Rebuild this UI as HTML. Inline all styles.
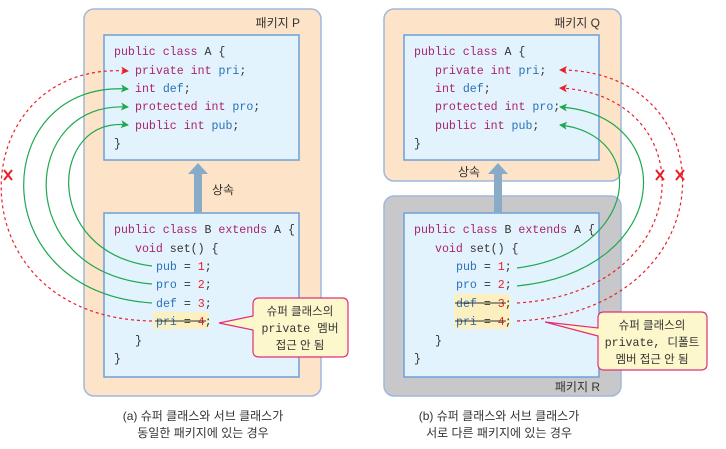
<!DOCTYPE html>
<html><head><meta charset="utf-8"><style>
html,body{margin:0;padding:0;background:#fff;}
svg{display:block;}
.c{font-family:"Liberation Mono",monospace;font-size:11.6px;}
.k{font-family:"Liberation Sans","Noto Sans CJK KR",sans-serif;}
</style></head><body>
<svg width="726" height="449" viewBox="0 0 726 449" xmlns="http://www.w3.org/2000/svg">
<defs>
<marker id="g" markerWidth="8" markerHeight="8" refX="7" refY="4" orient="auto" markerUnits="userSpaceOnUse"><path d="M0,0 L8,4 L0,8 L2,4 z" fill="#1fa84f"/></marker>
<marker id="r" markerWidth="8" markerHeight="8" refX="7" refY="4" orient="auto" markerUnits="userSpaceOnUse"><path d="M0,0 L8,4 L0,8 L2,4 z" fill="#e8202a"/></marker>
</defs>
<!-- left package -->
<rect x="84" y="9" width="237" height="387" rx="10" fill="#fde3c8" stroke="#9fb8dc" stroke-width="1.5"/>
<text x="300" y="27" class="k" font-size="12" fill="#333" text-anchor="end">패키지 P</text>
<rect x="104" y="35" width="195" height="125" fill="#e3f3fd" stroke="#6f9fd8" stroke-width="1.5"/>
<rect x="104" y="213" width="195" height="164" fill="#e3f3fd" stroke="#6f9fd8" stroke-width="1.5"/>
<path d="M194,213 L194,174 L188,174 L198,163 L208,174 L202,174 L202,213 z" fill="#88acc8"/>
<text x="212" y="194" class="k" font-size="12" fill="#333">상속</text>
<rect x="153" y="312" width="56" height="17" fill="#fdf0c0"/>
<!-- right packages -->
<rect x="384" y="9" width="237" height="172" rx="10" fill="#fde3c8" stroke="#9fb8dc" stroke-width="1.5"/>
<text x="600" y="27" class="k" font-size="12" fill="#333" text-anchor="end">패키지 Q</text>
<rect x="404" y="35" width="195" height="125" fill="#e3f3fd" stroke="#6f9fd8" stroke-width="1.5"/>
<rect x="384" y="196" width="237" height="200" rx="10" fill="#c8c8ca" stroke="#9fb8dc" stroke-width="1.5"/>
<text x="600" y="391" class="k" font-size="12" fill="#333" text-anchor="end">패키지 R</text>
<rect x="404" y="213" width="195" height="164" fill="#e3f3fd" stroke="#6f9fd8" stroke-width="1.5"/>
<path d="M494,213 L494,174 L488,174 L498,163 L508,174 L502,174 L502,213 z" fill="#88acc8"/>
<text x="458" y="176" class="k" font-size="12" fill="#333">상속</text>
<rect x="454" y="294" width="56" height="35" fill="#fdf0c0"/>

<!-- code left A -->
<g class="c">
<text x="114" y="55"><tspan fill="#a8246e">public class</tspan><tspan fill="#333"> A {</tspan></text>
<text x="135" y="74"><tspan fill="#a8246e">private int</tspan><tspan fill="#2a70b8"> pri</tspan><tspan fill="#333">;</tspan></text>
<text x="135" y="92"><tspan fill="#a8246e">int</tspan><tspan fill="#2a70b8"> def</tspan><tspan fill="#333">;</tspan></text>
<text x="135" y="110"><tspan fill="#a8246e">protected int</tspan><tspan fill="#2a70b8"> pro</tspan><tspan fill="#333">;</tspan></text>
<text x="135" y="129"><tspan fill="#a8246e">public int</tspan><tspan fill="#2a70b8"> pub</tspan><tspan fill="#333">;</tspan></text>
<text x="114" y="147" fill="#333">}</text>
<!-- left B -->
<text x="114" y="233"><tspan fill="#a8246e">public class</tspan><tspan fill="#333"> B </tspan><tspan fill="#a8246e">extends</tspan><tspan fill="#333"> A {</tspan></text>
<text x="135" y="252"><tspan fill="#a8246e">void</tspan><tspan fill="#333"> set() {</tspan></text>
<text x="156" y="270"><tspan fill="#2a70b8">pub</tspan><tspan fill="#333"> = </tspan><tspan fill="#e8202a">1</tspan><tspan fill="#333">;</tspan></text>
<text x="156" y="288"><tspan fill="#2a70b8">pro</tspan><tspan fill="#333"> = </tspan><tspan fill="#e8202a">2</tspan><tspan fill="#333">;</tspan></text>
<text x="156" y="307"><tspan fill="#2a70b8">def</tspan><tspan fill="#333"> = </tspan><tspan fill="#e8202a">3</tspan><tspan fill="#333">;</tspan></text>
<text x="156" y="325"><tspan fill="#2a70b8">pri</tspan><tspan fill="#333"> = </tspan><tspan fill="#e8202a">4</tspan><tspan fill="#333">;</tspan></text>
<text x="135" y="344" fill="#333">}</text>
<text x="114" y="362" fill="#333">}</text>
<!-- right A -->
<text x="414" y="55"><tspan fill="#a8246e">public class</tspan><tspan fill="#333"> A {</tspan></text>
<text x="435" y="74"><tspan fill="#a8246e">private int</tspan><tspan fill="#2a70b8"> pri</tspan><tspan fill="#333">;</tspan></text>
<text x="435" y="92"><tspan fill="#a8246e">int</tspan><tspan fill="#2a70b8"> def</tspan><tspan fill="#333">;</tspan></text>
<text x="435" y="110"><tspan fill="#a8246e">protected int</tspan><tspan fill="#2a70b8"> pro</tspan><tspan fill="#333">;</tspan></text>
<text x="435" y="129"><tspan fill="#a8246e">public int</tspan><tspan fill="#2a70b8"> pub</tspan><tspan fill="#333">;</tspan></text>
<text x="414" y="147" fill="#333">}</text>
<!-- right B -->
<text x="414" y="233"><tspan fill="#a8246e">public class</tspan><tspan fill="#333"> B </tspan><tspan fill="#a8246e">extends</tspan><tspan fill="#333"> A {</tspan></text>
<text x="435" y="252"><tspan fill="#a8246e">void</tspan><tspan fill="#333"> set() {</tspan></text>
<text x="456" y="270"><tspan fill="#2a70b8">pub</tspan><tspan fill="#333"> = </tspan><tspan fill="#e8202a">1</tspan><tspan fill="#333">;</tspan></text>
<text x="456" y="288"><tspan fill="#2a70b8">pro</tspan><tspan fill="#333"> = </tspan><tspan fill="#e8202a">2</tspan><tspan fill="#333">;</tspan></text>
<text x="456" y="307"><tspan fill="#2a70b8">def</tspan><tspan fill="#333"> = </tspan><tspan fill="#e8202a">3</tspan><tspan fill="#333">;</tspan></text>
<text x="456" y="325"><tspan fill="#2a70b8">pri</tspan><tspan fill="#333"> = </tspan><tspan fill="#e8202a">4</tspan><tspan fill="#333">;</tspan></text>
<text x="435" y="344" fill="#333">}</text>
<text x="414" y="362" fill="#333">}</text>
</g>
<!-- strike lines -->
<line x1="155" y1="321" x2="206" y2="321" stroke="#333" stroke-width="1"/>
<line x1="455" y1="303" x2="506" y2="303" stroke="#333" stroke-width="1"/>
<line x1="455" y1="321" x2="506" y2="321" stroke="#333" stroke-width="1"/>

<!-- left connectors -->
<g fill="none" stroke-width="1.2">
<path d="M152,266 C40,252 50,115 128,125" stroke="#1fa84f" marker-end="url(#g)"/>
<path d="M152,284 C10,272 20,100 128,107" stroke="#1fa84f" marker-end="url(#g)"/>
<path d="M152,303 C-20,292 -10,80 128,89" stroke="#1fa84f" marker-end="url(#g)"/>
<path d="M152,321 C-50,318 -40,60 128,71" stroke="#e8202a" stroke-dasharray="3,3" marker-end="url(#r)"/>
<!-- right connectors -->
<path d="M517,268 C640,252 650,135 560,125" stroke="#1fa84f" marker-end="url(#g)"/>
<path d="M517,286 C675,270 680,115 560,107" stroke="#1fa84f" marker-end="url(#g)"/>
<path d="M517,303 C700,292 705,95 560,88" stroke="#e8202a" stroke-dasharray="3,3" marker-end="url(#r)"/>
<path d="M517,321 C730,312 730,70 560,70" stroke="#e8202a" stroke-dasharray="3,3" marker-end="url(#r)"/>
</g>
<g stroke="#e8202a" stroke-width="2">
<path d="M4,170 L12,180 M12,170 L4,180"/>
<path d="M656,170 L664,180 M664,170 L656,180"/>
<path d="M676,170 L684,180 M684,170 L676,180"/>
</g>

<!-- callouts -->
<path d="M259,298 L342,298 Q348,298 348,304 L348,351 Q348,357 342,357 L259,357 Q253,357 253,351 L253,330 L219,323 L253,316 L253,304 Q253,298 259,298 z" fill="#fdf7cc" stroke="#e0307a" stroke-width="1.2"/>
<text x="300" y="315" class="k" font-size="11.5" fill="#333" text-anchor="middle">슈퍼 클래스의</text>
<text x="300" y="332" class="c" font-size="11.5" fill="#333" text-anchor="middle">private <tspan class="k">멤버</tspan></text>
<text x="300" y="349" class="k" font-size="11.5" fill="#333" text-anchor="middle">접근 안 됨</text>

<path d="M604,312 L701,312 Q707,312 707,318 L707,364 Q707,370 701,370 L604,370 Q598,370 598,364 L598,336 L545,322 L598,328 L598,318 Q598,312 604,312 z" fill="#fdf7cc" stroke="#e0307a" stroke-width="1.2"/>
<text x="652" y="329" class="k" font-size="11.5" fill="#333" text-anchor="middle">슈퍼 클래스의</text>
<text x="652" y="346" class="c" font-size="11.5" fill="#333" text-anchor="middle">private, <tspan class="k">디폴트</tspan></text>
<text x="652" y="363" class="k" font-size="11.5" fill="#333" text-anchor="middle">멤버 접근 안 됨</text>

<!-- captions -->
<text x="203" y="420" class="k" font-size="12" fill="#333" text-anchor="middle">(a) 슈퍼 클래스와 서브 클래스가</text>
<text x="203" y="437" class="k" font-size="12" fill="#333" text-anchor="middle">동일한 패키지에 있는 경우</text>
<text x="499" y="420" class="k" font-size="12" fill="#333" text-anchor="middle">(b) 슈퍼 클래스와 서브 클래스가</text>
<text x="499" y="437" class="k" font-size="12" fill="#333" text-anchor="middle">서로 다른 패키지에 있는 경우</text>
</svg>
</body></html>
